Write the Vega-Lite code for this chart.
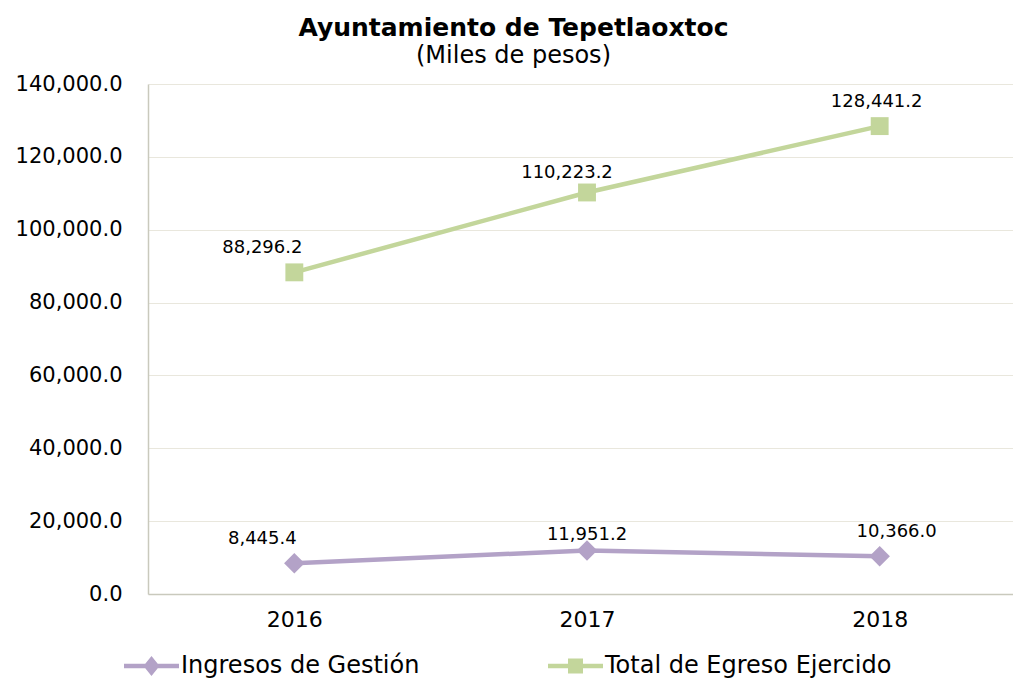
{
  "$schema": "https://vega.github.io/schema/vega-lite/v6.json",
  "autosize": {"type": "none"},
  "padding": {"left": 148, "top": 84, "right": 0, "bottom": 85},
  "width": 865,
  "height": 510,
  "background": "white",
  "title": {
    "text": "Ayuntamiento de Tepetlaoxtoc",
    "subtitle": "(Miles de pesos)",
    "anchor": "middle",
    "frame": "group",
    "dx": -67,
    "offset": 5,
    "font": "DejaVu Sans",
    "fontSize": 25,
    "fontWeight": "bold",
    "color": "#000000",
    "subtitleFont": "DejaVu Sans",
    "subtitleFontSize": 24,
    "subtitleColor": "#000000",
    "subtitlePadding": 3
  },
  "config": {
    "view": {"stroke": null},
    "axis": {
      "labelFont": "DejaVu Sans",
      "labelColor": "#000000",
      "domainColor": "#c9c9bd",
      "domainWidth": 1.5,
      "gridColor": "#e9e7dd",
      "gridWidth": 1.2,
      "ticks": false,
      "title": null
    }
  },
  "data": {
    "values": [
      {"year": "2016", "serie": "Ingresos de Gestión", "value": 8445.4},
      {"year": "2017", "serie": "Ingresos de Gestión", "value": 11951.2},
      {"year": "2018", "serie": "Ingresos de Gestión", "value": 10366.0},
      {"year": "2016", "serie": "Total de Egreso Ejercido", "value": 88296.2},
      {"year": "2017", "serie": "Total de Egreso Ejercido", "value": 110223.2},
      {"year": "2018", "serie": "Total de Egreso Ejercido", "value": 128441.2}
    ]
  },
  "encoding": {
    "x": {
      "field": "year",
      "type": "ordinal",
      "scale": {"type": "point", "padding": 0.5, "range": [0, 878]},
      "axis": {"labelAngle": 0, "labelFontSize": 22, "labelPadding": 15, "grid": false}
    },
    "y": {
      "field": "value",
      "type": "quantitative",
      "scale": {"domain": [0, 140000], "nice": false},
      "axis": {
        "values": [0, 20000, 40000, 60000, 80000, 100000, 120000, 140000],
        "format": ",.1f",
        "labelFontSize": 21,
        "labelPadding": 26,
        "grid": true
      }
    }
  },
  "layer": [
    {
      "mark": {"type": "line", "strokeWidth": 4.5},
      "encoding": {
        "color": {
          "field": "serie",
          "type": "nominal",
          "scale": {"domain": ["Ingresos de Gestión", "Total de Egreso Ejercido"], "range": ["#b3a2c7", "#c3d69b"]},
          "legend": {
            "orient": "none",
            "legendX": -8.5,
            "legendY": 570,
            "direction": "horizontal",
            "title": null,
            "padding": 0,
            "labelFont": "DejaVu Sans",
            "labelFontSize": 24,
            "labelColor": "#000000",
            "labelLimit": 0,
            "labelOffset": 17.5,
            "columnPadding": 128,
            "symbolSize": 400,
            "encode": {
              "symbols": {
                "update": {
                  "shape": {"signal": "datum.value === 'Ingresos de Gestión' ? 'M-2.75,-0.22H-0.624L0,-1L0.624,-0.22H2.75V0.22H0.624L0,1L-0.624,0.22H-2.75Z' : 'M-2.75,-0.22H-0.75V-0.75H0.75V-0.22H2.75V0.22H0.75V0.75H-0.75V0.22H-2.75Z'"},
                  "fill": {"signal": "datum.value === 'Ingresos de Gestión' ? '#b3a2c7' : '#c3d69b'"},
                  "stroke": {"value": "transparent"},
                  "strokeWidth": {"value": 0},
                  "opacity": {"value": 1},
                  "size": {"value": 400}
                }
              }
            }
          }
        }
      }
    },
    {
      "transform": [{"filter": "datum.serie === 'Ingresos de Gestión'"}],
      "mark": {"type": "point", "shape": "diamond", "filled": true, "opacity": 1, "size": 420, "color": "#b3a2c7"}
    },
    {
      "transform": [{"filter": "datum.serie === 'Total de Egreso Ejercido'"}],
      "mark": {"type": "point", "shape": "square", "filled": true, "opacity": 1, "size": 320, "color": "#c3d69b"}
    },
    {
      "transform": [{"filter": "datum.year === '2016'"}],
      "mark": {"type": "text", "font": "DejaVu Sans", "fontSize": 18, "color": "#000000", "baseline": "alphabetic", "dx": -32, "dy": -19},
      "encoding": {"text": {"field": "value", "type": "quantitative", "format": ",.1f"}}
    },
    {
      "transform": [{"filter": "datum.year === '2017' && datum.serie === 'Total de Egreso Ejercido'"}],
      "mark": {"type": "text", "font": "DejaVu Sans", "fontSize": 18, "color": "#000000", "baseline": "alphabetic", "dx": -20, "dy": -14},
      "encoding": {"text": {"field": "value", "type": "quantitative", "format": ",.1f"}}
    },
    {
      "transform": [{"filter": "datum.year === '2017' && datum.serie === 'Ingresos de Gestión'"}],
      "mark": {"type": "text", "font": "DejaVu Sans", "fontSize": 18, "color": "#000000", "baseline": "alphabetic", "dx": 0, "dy": -10},
      "encoding": {"text": {"field": "value", "type": "quantitative", "format": ",.1f"}}
    },
    {
      "transform": [{"filter": "datum.year === '2018' && datum.serie === 'Total de Egreso Ejercido'"}],
      "mark": {"type": "text", "font": "DejaVu Sans", "fontSize": 18, "color": "#000000", "baseline": "alphabetic", "dx": -3, "dy": -19},
      "encoding": {"text": {"field": "value", "type": "quantitative", "format": ",.1f"}}
    },
    {
      "transform": [{"filter": "datum.year === '2018' && datum.serie === 'Ingresos de Gestión'"}],
      "mark": {"type": "text", "font": "DejaVu Sans", "fontSize": 18, "color": "#000000", "baseline": "alphabetic", "dx": 17, "dy": -19},
      "encoding": {"text": {"field": "value", "type": "quantitative", "format": ",.1f"}}
    }
  ]
}
